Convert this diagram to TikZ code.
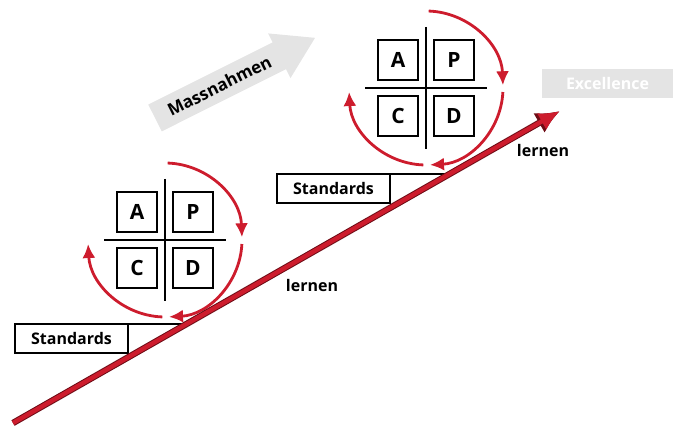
\documentclass[tikz,border=0pt]{standalone}
\usepackage{fontspec}
\setmainfont{Open Sans}
\usepackage{xcolor}
\definecolor{pdcared}{RGB}{205,28,45}
\definecolor{pdcadark}{RGB}{110,12,22}
\definecolor{softgray}{RGB}{228,228,228}
\usepackage{tikz}
\usetikzlibrary{positioning}
\usetikzlibrary{arrows.meta}

\begin{document}
\begin{tikzpicture}[x=1pt,y=1pt,
  every node/.style={inner sep=0pt,outer sep=0pt,font=\fontsize{16}{19}\selectfont\bfseries},
  letterbox/.style={draw,line width=2pt,minimum size=40pt,font=\fontsize{21}{25}\selectfont\bfseries},
  stdbox/.style={draw,line width=1.6pt,minimum width=113pt,minimum height=29pt},
  cross/.style={line width=2.6pt},
  cyclearc/.style={draw=pdcared,line width=2.8pt,-{Latex[length=14pt,width=13pt]}},
  mainedge/.style={draw=pdcadark,line width=6.4pt,-{Latex[length=24pt,width=23pt]}},
  mainline/.style={draw=pdcared,line width=4.4pt,-{Latex[length=21pt,width=19pt]}}]
\useasboundingbox (0,0) rectangle (681,430);

% Massnahmen
\begin{scope}[shift={(155,312)},rotate=26.6]
\fill[softgray] (0,-15) -- (139,-15) -- (139,-25) -- (179,0) -- (139,25) -- (139,15) -- (0,15) -- cycle;
\node[rotate=26.6,font=\fontsize{17}{20}\selectfont\bfseries] (mass) at (72,0) {Massnahmen};
\end{scope}

\node[fill=softgray,text=white,minimum width=131pt,minimum height=29pt] (exc) at (607.5,346.5) {Excellence};

% PDCA cycles
\foreach \c/\cx/\cy in {lo/165/190,hi/426/342}{
  \coordinate (c\c) at (\cx,\cy);
  \node[letterbox,above left=8pt and 8pt of c\c] (A\c) {A};
  \node[letterbox,above right=8pt and 8pt of c\c] (P\c) {P};
  \node[letterbox,below left=8pt and 8pt of c\c] (C\c) {C};
  \node[letterbox,below right=8pt and 8pt of c\c] (D\c) {D};
  \draw[cross] ([yshift=61pt]c\c) -- ([yshift=-61pt]c\c);
  \draw[cross] ([xshift=-61pt]c\c) -- ([xshift=61pt]c\c);
  \draw[cyclearc] ([shift={(88:77)}]c\c) arc[start angle=88,end angle=2,radius=77];
  \draw[cyclearc] ([shift={(-3:77)}]c\c) arc[start angle=-3,end angle=-87,radius=77];
  \draw[cyclearc] ([shift={(-92:77)}]c\c) arc[start angle=-92,end angle=-177,radius=77];
}

% Standards
\coordinate (start) at (13,7);
\coordinate (tip) at (560,319);
\node[stdbox] (stdlo) at (71.5,91.5) {Standards};
\node[stdbox] (stdhi) at (333.5,241.5) {Standards};
\draw[line width=1.6pt] (stdlo.north east) -- (intersection of stdlo.north west--stdlo.north east and start--tip);
\draw[line width=1.6pt] (stdhi.north east) -- (intersection of stdhi.north west--stdhi.north east and start--tip);

\draw[mainedge] (start) -- (tip);
\draw[mainline] (start) -- (tip);

\node (lernlo) at (312,144) {lernen};
\node (lernhi) at (543,279) {lernen};
\end{tikzpicture}
\end{document}
